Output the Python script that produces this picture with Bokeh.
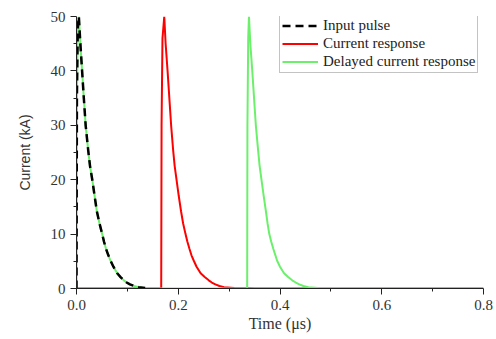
from bokeh.plotting import figure
from bokeh.models import Range1d, FixedTicker, Legend, LegendItem
from bokeh.embed import file_html
from bokeh.resources import INLINE

# ---- data ----
input_t = [0.0, 0.0008, 0.0025, 0.0046, 0.0076, 0.011, 0.0144, 0.018, 0.023, 0.0266,
           0.031, 0.0356, 0.040, 0.0451, 0.0505, 0.0541, 0.058, 0.0626, 0.067, 0.0726,
           0.080, 0.0866, 0.093, 0.0986, 0.105, 0.1136, 0.122, 0.135]
input_i = [0.0, 35.0, 48.0, 50.0, 45.0, 40.0, 35.0, 30.0, 25.4, 22.5,
           20.0, 17.0, 14.2, 12.0, 10.0, 8.6, 7.3, 6.1, 5.1, 4.0,
           2.8, 2.1, 1.5, 1.1, 0.75, 0.45, 0.25, 0.1]

resp_t = [0.0, 0.1665, 0.1672, 0.169, 0.1725, 0.1752, 0.179, 0.1825, 0.186, 0.190,
          0.193, 0.1966, 0.201, 0.2055, 0.2095, 0.2143, 0.218, 0.222, 0.226, 0.2306,
          0.236, 0.244, 0.252, 0.260, 0.266, 0.273, 0.281, 0.290, 0.31, 0.35, 0.8]
resp_i = [0.0, 0.0, 30.0, 46.0, 50.0, 45.0, 40.0, 35.0, 30.0, 25.4,
          22.5, 20.0, 17.0, 14.2, 12.0, 10.0, 8.6, 7.3, 6.1, 5.1,
          4.0, 2.8, 2.1, 1.5, 1.1, 0.75, 0.45, 0.25, 0.1, 0.02, 0.0]

delay_t = [0.0, 0.0008, 0.0025, 0.0046, 0.0076, 0.011, 0.0144, 0.018, 0.023, 0.0266,
           0.031, 0.0356, 0.040, 0.0451, 0.0505, 0.0541, 0.058, 0.0626, 0.067, 0.0726,
           0.080, 0.0866, 0.093, 0.0986, 0.105, 0.1136, 0.122, 0.14,
           0.3355, 0.336, 0.3375, 0.339, 0.3417, 0.3455, 0.349, 0.3525, 0.357, 0.360,
           0.3636, 0.368, 0.3723, 0.3755, 0.379, 0.3828, 0.3868, 0.391, 0.3944, 0.400,
           0.408, 0.416, 0.424, 0.431, 0.438, 0.446, 0.456, 0.475, 0.52, 0.8]
delay_i = [0.0, 35.0, 48.0, 50.0, 45.0, 40.0, 35.0, 30.0, 25.4, 22.5,
           20.0, 17.0, 14.2, 12.0, 10.0, 8.6, 7.3, 6.1, 5.1, 4.0,
           2.8, 2.1, 1.5, 1.1, 0.75, 0.45, 0.25, 0.0,
           0.0, 30.0, 46.0, 50.0, 45.0, 40.0, 35.0, 30.0, 25.4, 22.5,
           20.0, 17.0, 14.2, 12.0, 10.0, 8.6, 7.3, 6.1, 5.1, 4.0,
           2.8, 2.1, 1.5, 1.1, 0.75, 0.45, 0.25, 0.1, 0.0, 0.0]

x_ticks = [0.0, 0.2, 0.4, 0.6, 0.8]
x_minor = [0.1, 0.3, 0.5, 0.7]
y_ticks = [0, 10, 20, 30, 40, 50]
y_minor = [5, 15, 25, 35, 45]
labels = ["Input pulse", "Current response", "Delayed current response"]

p = figure(width=496, height=339, output_backend="svg", toolbar_location=None,
           x_range=Range1d(0, 0.8), y_range=Range1d(0, 50),
           min_border_left=76, min_border_right=13, min_border_top=16, min_border_bottom=51)
p.outline_line_color = None
p.xgrid.grid_line_color = None
p.ygrid.grid_line_color = None
p.background_fill_color = "white"
p.border_fill_color = "white"

r_resp = p.line(resp_t, resp_i, line_color="#FF0000", line_width=2)
r_delay = p.line(delay_t, delay_i, line_color="#6CF06C", line_width=2)
r_input = p.line(input_t, input_i, line_color="black", line_width=2.5, line_dash="8 5")

serif = "Liberation Serif"
for ax in (p.xaxis[0], p.yaxis[0]):
    ax.axis_line_color = "#222222"
    ax.major_tick_line_color = "#222222"
    ax.minor_tick_line_color = "#222222"
    ax.major_tick_in = 0
    ax.major_tick_out = 6
    ax.minor_tick_in = 0
    ax.minor_tick_out = 3
    ax.major_label_text_font = serif
    ax.major_label_text_font_size = "15px"
    ax.major_label_text_color = "#333333"
    ax.axis_label_text_font_style = "normal"
    ax.axis_label_text_color = "#333333"

p.xaxis.ticker = FixedTicker(ticks=x_ticks, minor_ticks=x_minor)
p.yaxis.ticker = FixedTicker(ticks=y_ticks, minor_ticks=y_minor)
p.xaxis.major_label_overrides = {v: f"{v:.1f}" for v in x_ticks}
p.yaxis.major_label_overrides = {v: f"{v}" for v in y_ticks}
p.xaxis.major_label_standoff = 5
p.yaxis.major_label_standoff = 5

p.xaxis.axis_label = "Time (\u03bcs)"
p.xaxis.axis_label_text_font = serif
p.xaxis.axis_label_text_font_size = "16px"
p.xaxis.axis_label_standoff = 2

p.yaxis.axis_label = "Current (kA)"
p.yaxis.axis_label_text_font = "Liberation Sans"
p.yaxis.axis_label_text_font_size = "14px"
p.yaxis.axis_label_standoff = 15

legend = Legend(items=[LegendItem(label=labels[0], renderers=[r_input]),
                       LegendItem(label=labels[1], renderers=[r_resp]),
                       LegendItem(label=labels[2], renderers=[r_delay])],
                location=(203, 215), orientation="vertical",
                padding=2, spacing=1, margin=0,
                label_height=17, glyph_height=17, glyph_width=36, label_standoff=5,
                label_text_font=serif, label_text_font_size="15px",
                label_text_color="#222222",
                border_line_color="#888888", border_line_width=1,
                background_fill_color="white", background_fill_alpha=1.0)
p.add_layout(legend, "center")

open("out.html", "w").write(file_html(p, INLINE))
